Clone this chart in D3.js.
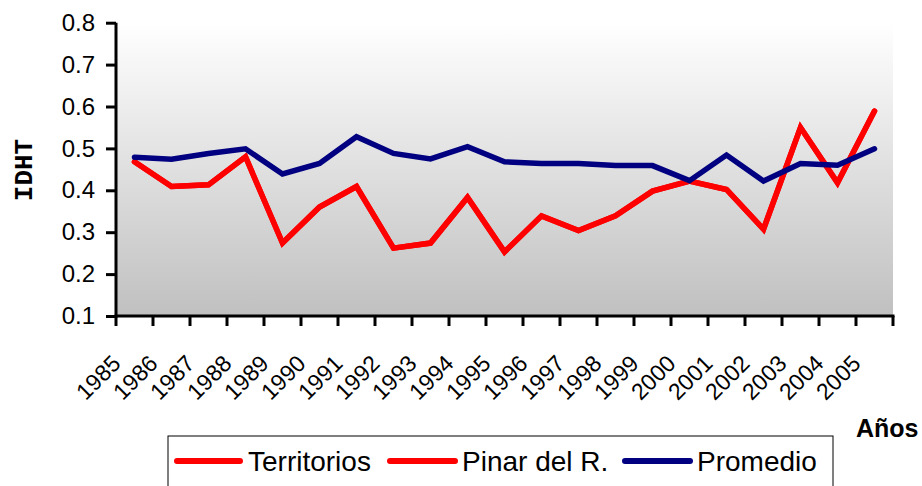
<!DOCTYPE html>
<html><head><meta charset="utf-8">
<script src="https://cdn.jsdelivr.net/npm/d3@7"></script>
<style>body{margin:0;background:#fff;}svg{display:block;}</style>
</head><body>
<svg id="c" width="922" height="486"></svg>
<script>
const years = ["1985","1986","1987","1988","1989","1990","1991","1992","1993","1994","1995","1996","1997","1998","1999","2000","2001","2002","2003","2004","2005"];
const territorios = [0.468,0.409,0.413,0.480,0.274,0.360,0.409,0.262,0.274,0.383,0.253,0.339,0.304,0.339,0.398,0.422,0.402,0.307,0.550,0.418,0.589];
const pinar = [0.468,0.409,0.413,0.480,0.274,0.360,0.409,0.262,0.274,0.383,0.253,0.339,0.304,0.339,0.398,0.422,0.402,0.307,0.550,0.418,0.589];
const promedio = [0.479,0.474,0.488,0.499,0.439,0.464,0.528,0.488,0.475,0.504,0.468,0.464,0.464,0.459,0.459,0.423,0.484,0.422,0.464,0.460,0.499];
const yTicks = [0.1,0.2,0.3,0.4,0.5,0.6,0.7,0.8];
const seriesNames = ["Territorios","Pinar del R.","Promedio"];
const seriesColors = ["#ff0000","#ff0000","#000080"];

const svg = d3.select("#c");
const L = 116, R = 893, T = 22.7, B = 316;
const x = d3.scaleBand().domain(years).range([L, R]);
const y = d3.scaleLinear().domain([0.1, 0.8]).range([B, T]);

const defs = svg.append("defs");
const g = defs.append("linearGradient").attr("id","bg").attr("x1",0).attr("y1",0).attr("x2",0).attr("y2",1);
g.append("stop").attr("offset","0%").attr("stop-color","#ffffff");
g.append("stop").attr("offset","100%").attr("stop-color","#c0c0c0");
svg.append("rect").attr("x",L).attr("y",T).attr("width",R-L).attr("height",B-T).attr("fill","url(#bg)");

const line = d3.line().x((d,i)=>x(years[i])+x.bandwidth()/2).y(d=>y(d));
const data = [territorios, pinar, promedio];
data.forEach((s,k)=>{
  svg.append("path").datum(s).attr("d",line).attr("fill","none")
    .attr("stroke",seriesColors[k]).attr("stroke-width",5.5)
    .attr("stroke-linejoin","miter").attr("stroke-linecap","round");
});

// Y axis
const yAxis = svg.append("g").attr("transform",`translate(${L},0)`)
  .call(d3.axisLeft(y).tickValues(yTicks).tickFormat(d3.format(".1f")).tickSize(10).tickPadding(11));
yAxis.select(".domain").attr("stroke","#000").attr("stroke-width",3).attr("d",`M0,${B+1.5}V${T}`);
yAxis.selectAll(".tick line").attr("stroke","#000").attr("stroke-width",3);
yAxis.selectAll(".tick text").attr("font-family","'Liberation Sans', Arial, sans-serif").attr("font-size",24).attr("fill","#000");

// X axis
const xTickPos = years.map(d=>x(d)).concat([R]);
const xAxisG = svg.append("g");
xAxisG.append("line").attr("x1",L-1.5).attr("x2",R+1.5).attr("y1",B).attr("y2",B).attr("stroke","#000").attr("stroke-width",3);
xAxisG.selectAll("line.t").data(xTickPos).enter().append("line").attr("class","t")
  .attr("x1",d=>d).attr("x2",d=>d).attr("y1",B).attr("y2",B+10).attr("stroke","#000").attr("stroke-width",3);
xAxisG.selectAll("text").data(years).enter().append("text")
  .attr("transform",d=>`translate(${x(d)+x.bandwidth()/2-12.5},${B+49}) rotate(-45)`)
  .attr("text-anchor","end").attr("font-family","'Liberation Sans', Arial, sans-serif")
  .attr("font-size",23).attr("fill","#000").text(d=>d);

// Axis titles
svg.append("text").attr("transform","translate(32,170) rotate(-90)").attr("text-anchor","middle")
  .attr("font-family","'Courier New', 'Liberation Mono', monospace").attr("font-weight","bold")
  .attr("font-size",26).attr("fill","#000").text("IDHT");
svg.append("text").attr("x",856).attr("y",437).attr("font-family","'Liberation Sans', Arial, sans-serif")
  .attr("font-weight","bold").attr("font-size",25).attr("fill","#000").text("Años");

// Legend
const lg = svg.append("g");
lg.append("rect").attr("x",168).attr("y",436).attr("width",665).attr("height",70).attr("fill","#fff").attr("stroke","#000").attr("stroke-width",1);
const items = [{x1:177,x2:240,tx:248},{x1:390,x2:455,tx:462},{x1:625,x2:690,tx:697}];
items.forEach((it,k)=>{
  lg.append("line").attr("x1",it.x1).attr("x2",it.x2).attr("y1",461).attr("y2",461)
    .attr("stroke",seriesColors[k]).attr("stroke-width",6).attr("stroke-linecap","round");
  lg.append("text").attr("x",it.tx).attr("y",471).attr("font-family","'Liberation Sans', Arial, sans-serif")
    .attr("font-size",28).attr("fill","#000").text(seriesNames[k]);
});
</script>
</body></html>
